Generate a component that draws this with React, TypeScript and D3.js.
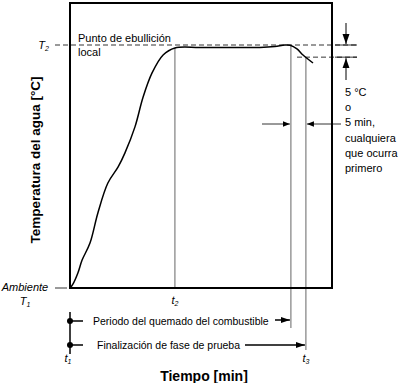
import React from "react";
import * as d3 from "d3";

// Time (arbitrary minutes, t1 = 0) and water temperature (T1 = 0, T2 = 100)
const curveTime = [0, 1.1, 3.0, 4.6, 7.6, 10.6, 14.4, 18.3, 20.9, 24.7, 27.8, 31.2, 35.4, 39.9, 49.4, 60.8, 72.2, 77.9, 81.7, 83.7, 86.3, 88.6, 92.4];
const curveTemp = [0, 1.6, 6.2, 11.5, 18.5, 30.9, 43.2, 49.8, 55.6, 66.3, 78.6, 88.5, 95.9, 98.8, 99.0, 99.0, 99.0, 99.4, 100, 99.9, 98.4, 95.9, 92.6];

const T1 = 0;
const T2 = 100;
const dropC = 5;
const t1 = 0;
const t2 = 39.9;
const tBurnEnd = 84.0;
const t3 = 89.7;

const rightNote = ["5 °C", "o", "5 min,", "cualquiera", "que ocurra", "primero"];

const W = 404, H = 383;
const FONT = "'Liberation Sans', Arial, sans-serif";

export default function App() {
  const x = d3.scaleLinear().domain([0, 100]).range([70, 333]);
  const y = d3.scaleLinear().domain([T1, T2]).range([288, 45]);
  const pts: [number, number][] = curveTime.map((t, i) => [t, curveTemp[i]]);
  const line = d3.line<[number, number]>().x(d => x(d[0])).y(d => y(d[1])).curve(d3.curveCatmullRom.alpha(0.5));
  const yT2 = y(T2);
  const yDrop = y(T2 - dropC);
  const curveAt = (t: number) => {
    const i = d3.bisector((d: number) => d).left(curveTime, t);
    if (i <= 0) return curveTemp[0];
    const a = i - 1;
    const f = (t - curveTime[a]) / (curveTime[i] - curveTime[a]);
    return curveTemp[a] + f * (curveTemp[i] - curveTemp[a]);
  };
  const gray = "#666";
  return (
    <svg width={W} height={H} style={{ position: "absolute", left: 0, top: 0, background: "#fff" }} fontFamily={FONT}>
      <defs>
        <marker id="ah" viewBox="0 0 10 10" refX="10" refY="5" markerWidth="7" markerHeight="7" markerUnits="userSpaceOnUse" orient="auto">
          <path d="M0,1 L10,5 L0,9 z" fill="#000" />
        </marker>
        <marker id="ahMid" viewBox="0 0 10 10" refX="10" refY="5" markerWidth="9" markerHeight="9" markerUnits="userSpaceOnUse" orient="auto">
          <path d="M0,1.5 L10,5 L0,8.5 z" fill="#000" />
        </marker>
        <marker id="ahBig" viewBox="0 0 10 10" refX="10" refY="5" markerWidth="10" markerHeight="10" markerUnits="userSpaceOnUse" orient="auto">
          <path d="M0,1.5 L10,5 L0,8.5 z" fill="#000" />
        </marker>
      </defs>
      {/* dashed reference lines */}
      <line x1={55} x2={357} y1={yT2} y2={yT2} stroke="#000" strokeWidth={0.8} strokeDasharray="5,3" />
      <line x1={297} x2={357} y1={yDrop} y2={yDrop} stroke="#000" strokeWidth={0.8} strokeDasharray="5,3" />
      <line x1={335} x2={357} y1={yT2} y2={yT2} stroke="#000" strokeWidth={0.8} />
      <line x1={335} x2={357} y1={yDrop} y2={yDrop} stroke="#000" strokeWidth={0.8} />
      {/* verticals */}
      <line x1={x(t2)} x2={x(t2)} y1={y(curveAt(t2))} y2={288} stroke={gray} strokeWidth={1} />
      <line x1={x(tBurnEnd)} x2={x(tBurnEnd)} y1={y(curveAt(tBurnEnd))} y2={328} stroke={gray} strokeWidth={1} />
      <line x1={x(t3)} x2={x(t3)} y1={y(curveAt(t3))} y2={350} stroke={gray} strokeWidth={1} />
      {/* curve */}
      <path d={line(pts) || ""} fill="none" stroke="#000" strokeWidth={1.5} />
      {/* frame */}
      <rect x={70} y={3} width={262} height={285} fill="none" stroke="#000" strokeWidth={2} />
      {/* left ticks */}
      <line x1={55} x2={67} y1={y(T1)} y2={y(T1)} stroke="#000" strokeWidth={0.8} />
      <text x={49} y={yT2 + 4} fontSize={11} fontStyle="italic" textAnchor="end">T<tspan fontSize={7} dy={2}>2</tspan></text>
      <text x={25} y={291} fontSize={11} fontStyle="italic" textAnchor="middle">Ambiente</text>
      <text x={25} y={305} fontSize={11} fontStyle="italic" textAnchor="middle">T<tspan fontSize={7} dy={2}>1</tspan></text>
      <text x={x(t2)} y={304} fontSize={11} fontStyle="italic" textAnchor="middle">t<tspan fontSize={7} dy={2}>2</tspan></text>
      {/* boiling label */}
      <text x={78} y={42} fontSize={11}>Punto de ebullición</text>
      <text x={78} y={56} fontSize={11}>local</text>
      {/* right annotation */}
      <line x1={346} x2={346} y1={23} y2={yT2 - 1} stroke="#000" strokeWidth={1} markerEnd="url(#ahBig)" />
      <line x1={346} x2={346} y1={80} y2={yDrop + 1} stroke="#000" strokeWidth={1} markerEnd="url(#ahBig)" />
      {rightNote.map((s, i) => (
        <text key={i} x={345} y={96 + i * 15.2} fontSize={11}>{s}</text>
      ))}
      <line x1={262} x2={x(tBurnEnd) - 1} y1={124} y2={124} stroke="#000" strokeWidth={0.8} markerEnd="url(#ah)" />
      <line x1={341} x2={x(t3) + 1} y1={124} y2={124} stroke="#000" strokeWidth={0.8} markerEnd="url(#ah)" />
      {/* bottom legend */}
      <line x1={x(t1)} x2={x(t1)} y1={312} y2={354} stroke="#000" strokeWidth={1.5} />
      <line x1={x(t1)} x2={83} y1={321} y2={321} stroke="#000" strokeWidth={1.5} />
      <line x1={x(t1)} x2={83} y1={345} y2={345} stroke="#000" strokeWidth={1.5} />
      <circle cx={x(t1)} cy={321} r={3} fill="#000" />
      <circle cx={x(t1)} cy={345} r={3} fill="#000" />
      <text x={93} y={325} fontSize={10.5}>Periodo del quemado del combustible</text>
      <text x={97} y={349} fontSize={10.5}>Finalización de fase de prueba</text>
      <line x1={275} x2={x(tBurnEnd) - 1} y1={320} y2={320} stroke="#000" strokeWidth={1.5} markerEnd="url(#ahMid)" />
      <line x1={245} x2={x(t3) - 1} y1={345} y2={345} stroke="#000" strokeWidth={1.5} markerEnd="url(#ahMid)" />
      <text x={x(t1) - 2} y={362} fontSize={11} fontStyle="italic" textAnchor="middle">t<tspan fontSize={7} dy={2}>1</tspan></text>
      <text x={x(t3)} y={362} fontSize={11} fontStyle="italic" textAnchor="middle">t<tspan fontSize={7} dy={2}>3</tspan></text>
      {/* axis titles */}
      <text x={204} y={381} fontSize={14} fontWeight="bold" textAnchor="middle">Tiempo [min]</text>
      <text transform="translate(40,160) rotate(-90)" fontSize={13.5} fontWeight="bold" textAnchor="middle">Temperatura del agua [°C]</text>
    </svg>
  );
}
